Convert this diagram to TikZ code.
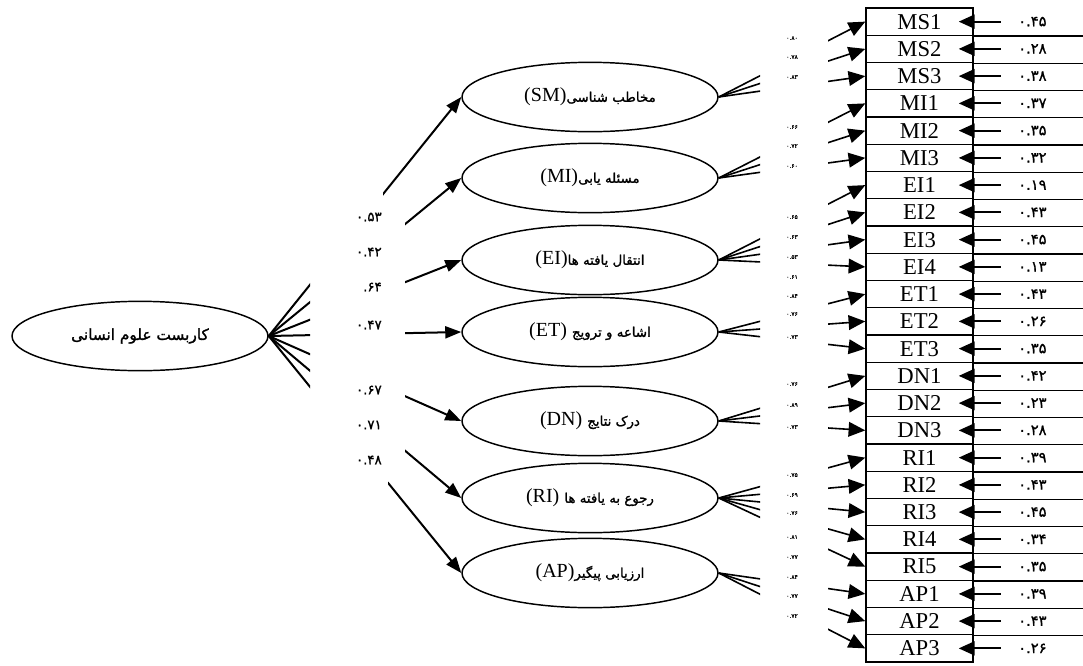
\documentclass[tikz,border=0pt]{standalone}
\usepackage{fontspec}
\usepackage{xcolor}
\usetikzlibrary{shapes.geometric,arrows.meta}
\setmainfont{Liberation Serif}
\newfontfamily\fa[Script=Arabic,FakeBold=1.4]{DejaVu Sans}
\newfontfamily\fanum[FakeBold=1.2]{DejaVu Sans}
\TeXXeTstate=1
\newcommand\perstext[2][10]{{\fa\fontsize{#1}{12}\selectfont\beginR #2\endR}}

\begin{document}
\begin{tikzpicture}[x=0.75pt,y=-0.75pt]
\tikzstyle{every node}+=[inner sep=0pt]
\tikzstyle{latent}=[draw=black,line width=1.1pt,ellipse,minimum width=192pt,minimum height=52pt,font=\fontsize{15}{15}\selectfont]
\tikzstyle{cell}=[draw=black,line width=1.1pt,minimum width=80.25pt,minimum height=20.44pt,font=\fontsize{17}{17}\selectfont]
\tikzstyle{regarrow}=[line width=1.5pt,-{Triangle[length=12pt,width=9pt]}]
\tikzstyle{loadarrow}=[line width=1.2pt,-{Triangle[length=12.5pt,width=11pt]}]
\tikzstyle{errarrow}=[line width=1.5pt,-{Triangle[length=12pt,width=10.5pt]}]
\tikzstyle{coef}=[font=\fanum\fontsize{10}{10}\selectfont]
\tikzstyle{small coef}=[font=\fanum\fontsize{4.5}{4.5}\selectfont]
\tikzstyle{errlab}=[font=\fanum\fontsize{11}{11}\selectfont]
\useasboundingbox (0,0) rectangle (1083,665);

\node[latent] (main) at (140,336) {\perstext[11.5]{کاربست علوم انسانی}};
\node[latent] (SM) at (590,97) {(SM)\perstext{مخاطب شناسی}};
\node[latent] (MI) at (590,178) {(MI)\perstext{مسئله یابی}};
\node[latent] (EI) at (590,260) {(EI)\perstext{انتقال یافته ها}};
\node[latent] (ET) at (590,332) {(ET) \perstext{اشاعه و ترویج}};
\node[latent] (DN) at (590,421) {(DN) \perstext{درک نتایج}};
\node[latent] (RI) at (590,498) {(RI) \perstext{رجوع به یافته ها}};
\node[latent] (AP) at (590,573) {(AP)\perstext{ارزیابی پیگیر}};

\foreach \lab [count=\i] in {MS1,MS2,MS3,MI1,MI2,MI3,EI1,EI2,EI3,EI4,ET1,ET2,ET3,DN1,DN2,DN3,RI1,RI2,RI3,RI4,RI5,AP1,AP2,AP3}
  \node[cell] (\lab) at (919.5,{8+(\i-0.5)*27.25}) {\lab};
\foreach \lab in {MS1,MS2,MS3,MI1,MI2,MI3,EI1,EI2,EI3,EI4,ET1,ET2,ET3,DN1,DN2,DN3,RI1,RI2,RI3,RI4,RI5,AP1,AP2}
  \draw[line width=1.1pt] (\lab.south east) -- ++(112,0);

\begin{scope}
\clip (0,0) rectangle (310,665)
  (383,0) -- (760,0) -- (760,665) -- (388,665) -- (388,482) -- (405,466) -- (405,214) -- (383,198) -- cycle
  (828,0) rectangle (1083,665);
\foreach \f in {SM,MI,EI,ET,DN,RI,AP}
  \draw[regarrow] (main.east) -- (\f.west);
\foreach \f/\lab in {SM/MS1,SM/MS2,SM/MS3,MI/MI1,MI/MI2,MI/MI3,EI/EI1,EI/EI2,EI/EI3,EI/EI4,ET/ET1,ET/ET2,ET/ET3,DN/DN1,DN/DN2,DN/DN3,RI/RI1,RI/RI2,RI/RI3,RI/RI4,RI/RI5,AP/AP1,AP/AP2,AP/AP3}
  \draw[loadarrow] (\f.east) -- (\lab.west);
\end{scope}

\foreach \lab/\e in {MS1/۰.۴۵,MS2/۰.۲۸,MS3/۰.۳۸,MI1/۰.۳۷,MI2/۰.۳۵,MI3/۰.۳۲,EI1/۰.۱۹,EI2/۰.۴۳,EI3/۰.۴۵,EI4/۰.۱۳,ET1/۰.۴۳,ET2/۰.۲۶,ET3/۰.۳۵,DN1/۰.۴۲,DN2/۰.۲۳,DN3/۰.۲۸,RI1/۰.۳۹,RI2/۰.۴۳,RI3/۰.۴۵,RI4/۰.۳۴,RI5/۰.۳۵,AP1/۰.۳۹,AP2/۰.۴۳,AP3/۰.۲۶}
{
  \node[errlab] (e\lab) at ([xshift=44pt]\lab.east) {\e};
  \draw[errarrow] ([xshift=-13pt]e\lab.west) -- ([xshift=-11.25pt]\lab.east);
}

\foreach \y/\v [count=\i] in {217/۰.۵۳,252/۰.۴۲,287/.۶۴,325/۰.۴۷,390/۰.۶۷,425/۰.۷۱,460/۰.۴۸}
  \node[coef,anchor=east] (c\i) at (382,\y) {\v};

\foreach \y/\v [count=\i] in {38/۰.۸۰,57/۰.۷۸,77/۰.۸۳,127/۰.۶۶,146/۰.۷۲,166/۰.۶۰,217/۰.۶۵,237/۰.۶۳,257/۰.۵۳,277/۰.۶۱,296/۰.۸۴,314/۰.۷۶,337/۰.۷۳,384/۰.۷۶,405/۰.۸۹,427/۰.۷۳,475/۰.۷۵,495/۰.۶۹,513/۰.۷۶,537/۰.۸۱,557/۰.۷۷,577/۰.۸۴,596/۰.۷۷,616/۰.۷۲}
  \node[small coef] (l\i) at (792,\y) {\v};
\end{tikzpicture}
\end{document}
